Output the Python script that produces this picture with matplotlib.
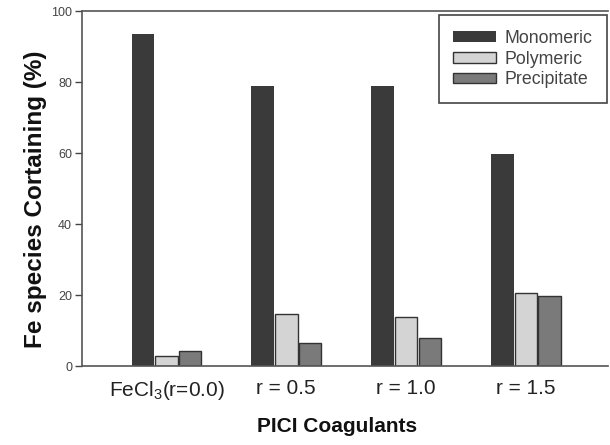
import matplotlib
matplotlib.use("Agg")
import matplotlib.pyplot as plt
import numpy as np

plt.rcParams['font.family'] = ['Liberation Sans', 'DejaVu Sans']
plt.rcParams['mathtext.fontset'] = 'custom'
plt.rcParams['mathtext.rm'] = 'Liberation Sans'

groups = ["FeCl$_\\mathrm{3}$(r=0.0)", "r = 0.5", "r = 1.0", "r = 1.5"]
series_names = ["Monomeric", "Polymeric", "Precipitate"]
monomeric = [93.5, 79.0, 79.0, 59.7]
polymeric = [2.7, 14.6, 13.7, 20.5]
precipitate = [4.1, 6.4, 7.8, 19.6]
colors = ["#3a3a3a", "#d4d4d4", "#7a7a7a"]

fig = plt.figure(figsize=(6.1, 4.45), dpi=100)
ax = fig.add_axes([0.134, 0.1775, 0.863, 0.7975])

x = np.arange(len(groups))
width = 0.187
step = 0.197
for i, (vals, name, c) in enumerate(zip([monomeric, polymeric, precipitate], series_names, colors)):
    ax.bar(x + (i - 1) * step, vals, width, color=c, edgecolor="#333333",
           linewidth=1.0 if i else 0.0, label=name)

ax.set_xlim(-0.707, 3.686)
ax.set_ylim(0, 100)
ax.set_yticks([0, 20, 40, 60, 80, 100])
ax.set_xticks(x)
ax.set_xticklabels(groups, fontsize=15, color="#222222")
ax.tick_params(axis='x', length=0, pad=9)
ax.tick_params(axis='y', length=5, width=1, labelsize=9, colors="#444444", pad=2)
ax.spines['right'].set_visible(False)
for s in ['left', 'top', 'bottom']:
    ax.spines[s].set_color("#555555")
    ax.spines[s].set_linewidth(1.2)

fig.text(0.553, 0.02, "PICI Coagulants", fontsize=15, fontweight='bold',
         ha='center', va='bottom', color="#111111")
fig.text(0.058, 0.553, "Fe species Cortaining (%)", fontsize=17.5, fontweight='bold',
         rotation=90, ha='center', va='center', color="#111111")

leg = ax.legend(loc='upper right', bbox_to_anchor=(0.9975, 0.988), fontsize=12.8,
                fancybox=False, framealpha=1, edgecolor="#444444",
                handlelength=2.4, handleheight=0.55, handletextpad=0.5,
                labelspacing=0.22, borderpad=0.8, borderaxespad=0.0)
leg.get_frame().set_linewidth(1.2)
for t in leg.get_texts():
    t.set_color("#444444")

fig.savefig("out.png", dpi=100)
